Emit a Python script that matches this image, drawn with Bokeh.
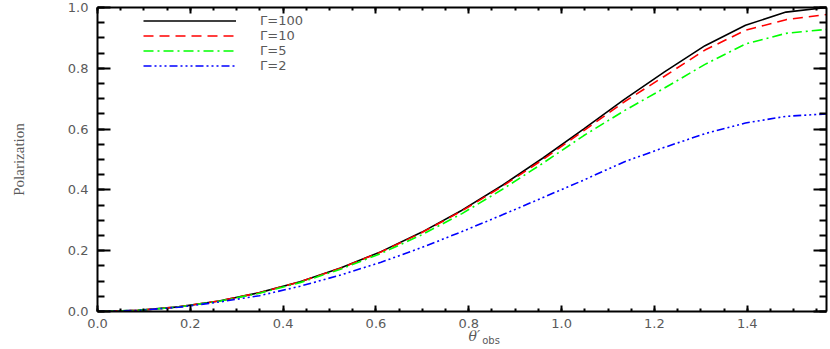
from bokeh.plotting import figure
from bokeh.models import (LinearAxis, FixedTicker, Range1d, Legend, LegendItem,
                          ColumnDataSource, PrintfTickFormatter)
from bokeh.embed import file_html
from bokeh.resources import INLINE
import math

# angles in degrees (5 degree steps), converted to radians for the x axis
theta_deg = [0, 5, 10, 15, 20, 25, 30, 35, 40, 45, 50, 55, 60, 65, 70, 75, 80, 85, 90]
pol_g100 = [0.0, 0.0038, 0.0153, 0.0347, 0.0621, 0.0981, 0.1429, 0.1969, 0.2604, 0.3333,
            0.4152, 0.5049, 0.6000, 0.6969, 0.7880, 0.8744, 0.9414, 0.9849, 1.0]
pol_g10 = [0.0, 0.0038, 0.0152, 0.0345, 0.0618, 0.0977, 0.1422, 0.1958, 0.2588, 0.3310,
           0.4120, 0.5000, 0.5940, 0.6890, 0.7740, 0.8600, 0.9250, 0.9600, 0.9770]
pol_g5 = [0.0, 0.0037, 0.0148, 0.0335, 0.0600, 0.0950, 0.1390, 0.1910, 0.2520, 0.3220,
          0.4020, 0.4880, 0.5780, 0.6600, 0.7350, 0.8130, 0.8800, 0.9150, 0.9280]
pol_g2 = [0.0, 0.0035, 0.0140, 0.0310, 0.0520, 0.0830, 0.1200, 0.1620, 0.2100, 0.2630,
          0.3180, 0.3750, 0.4320, 0.4920, 0.5400, 0.5850, 0.6200, 0.6420, 0.6500]
series_labels = ["\u0393=100", "\u0393=10", "\u0393=5", "\u0393=2"]
x_ticks = [0.0, 0.2, 0.4, 0.6, 0.8, 1.0, 1.2, 1.4]
y_ticks = [0.0, 0.2, 0.4, 0.6, 0.8, 1.0]
x_title_main = "\u03b8\u2032"
x_title_sub = "obs"

theta = [d * math.pi / 180.0 for d in theta_deg]

p = figure(width=830, height=348, output_backend="svg", toolbar_location=None,
           x_range=Range1d(0, math.pi / 2), y_range=Range1d(0, 1.0),
           x_axis_type=None, y_axis_type=None,
           min_border_left=97, min_border_right=4, min_border_top=7, min_border_bottom=37)
p.outline_line_color = None
p.xgrid.visible = False
p.ygrid.visible = False
p.background_fill_color = "white"

x_minor = [i * 0.05 for i in range(0, 32)]
y_minor = [i * 0.05 for i in range(0, 21)]

label_color = "#5a5a5a"
font = "DejaVu Sans"

def make_axis(ticks, minor, show_labels, major_len, minor_len):
    ax = LinearAxis(ticker=FixedTicker(ticks=ticks, minor_ticks=minor),
                    formatter=PrintfTickFormatter(format="%.1f"))
    ax.axis_line_color = "black"
    ax.axis_line_width = 2
    ax.major_tick_line_color = "black"
    ax.major_tick_line_width = 2
    ax.minor_tick_line_color = "black"
    ax.minor_tick_line_width = 2
    ax.major_tick_in = major_len
    ax.major_tick_out = 0
    ax.minor_tick_in = minor_len
    ax.minor_tick_out = 0
    ax.major_label_text_font = font
    ax.major_label_text_font_size = "13px"
    ax.major_label_text_color = label_color
    if not show_labels:
        ax.major_label_text_alpha = 0
        ax.major_label_text_font_size = "1px"
    return ax

def title_axis(pos, text, size, style, standoff, font_name):
    ax = LinearAxis(ticker=FixedTicker(ticks=[pos], minor_ticks=[]),
                    major_label_overrides={pos: text})
    ax.axis_line_color = None
    ax.major_tick_line_color = None
    ax.minor_tick_line_color = None
    ax.major_tick_in = 0
    ax.major_tick_out = 0
    ax.minor_tick_in = 0
    ax.minor_tick_out = 0
    ax.major_label_standoff = standoff
    ax.major_label_text_font = font_name
    ax.major_label_text_font_size = size
    ax.major_label_text_font_style = style
    ax.major_label_text_color = label_color
    return ax

xb = make_axis(x_ticks, x_minor, True, 6, 3)
xb.major_label_standoff = 7
xt = make_axis(x_ticks, x_minor, False, 6, 3)
yl = make_axis(y_ticks, y_minor, True, 13, 7)
yl.major_label_standoff = 9
yl.major_label_orientation = "horizontal"
yl.axis_label = "Polarization"
yl.axis_label_text_font = "Liberation Serif"
yl.axis_label_text_font_style = "normal"
yl.axis_label_text_font_size = "15px"
yl.axis_label_text_color = label_color
yl.axis_label_standoff = 38
yr = make_axis(y_ticks, y_minor, False, 13, 7)

p.add_layout(xb, "below")
p.add_layout(title_axis(0.812, x_title_main, "14px", "italic", -3, "DejaVu Serif"), "below")
p.add_layout(title_axis(0.848, x_title_sub, "10px", "normal", -12, font), "below")
p.add_layout(xt, "above")
p.add_layout(yl, "left")
p.add_layout(yr, "right")

colors = ["black", "#ff0000", "#00ff00", "#0000ff"]
dashes = ["solid", "10 6", "10 4 2 4", "8 3 2 3 2 3 2 3"]
data = [pol_g100, pol_g10, pol_g5, pol_g2]
renderers = []
for vals, c, d in zip(data, colors, dashes):
    src = ColumnDataSource(dict(x=theta, y=vals))
    r = p.line("x", "y", source=src, line_color=c, line_width=1.6, line_dash=d)
    renderers.append(r)

legend = Legend(items=[LegendItem(label=lab, renderers=[r]) for lab, r in zip(series_labels, renderers)],
                location=(46, 238), orientation="vertical",
                padding=0, margin=0, spacing=0, border_line_color=None,
                background_fill_alpha=0,
                glyph_width=93, glyph_height=15, label_height=15,
                label_standoff=24, label_text_font=font, label_text_font_size="13px",
                label_text_color=label_color, label_text_baseline="middle")
p.add_layout(legend, "center")

open("out.html", "w").write(file_html(p, INLINE))
